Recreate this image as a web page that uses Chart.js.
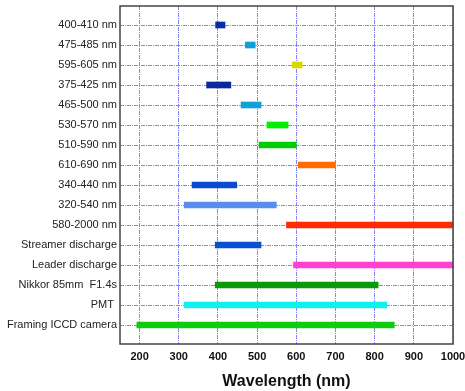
<!DOCTYPE html>
<html>
<head>
<meta charset="utf-8">
<script src="https://cdn.jsdelivr.net/npm/chart.js@4"></script>
<style>
  html, body { margin: 0; padding: 0; background: #fff; }
  #wrap { width: 465px; height: 391px; }
</style>
</head>
<body>
<div id="wrap"><canvas id="chart"></canvas></div>
<script>
const categories = ['400-410 nm', '475-485 nm', '595-605 nm', '375-425 nm', '465-500 nm',
  '530-570 nm', '510-590 nm', '610-690 nm', '340-440 nm', '320-540 nm', '580-2000 nm',
  'Streamer discharge', 'Leader discharge', 'Nikkor 85mm  F1.4s', 'PMT ', 'Framing ICCD camera'];
// bar extents (nm)
const rangeStart = [394, 470, 590, 371, 459, 525, 505, 605, 334, 314, 575, 393, 593, 393, 314, 193];
const rangeEnd   = [418, 495, 615, 433, 510, 579, 600, 700, 448, 549, 2000, 510, 2000, 809, 831, 850];
const barColors = ['#0a2ea8', '#10a0d8', '#d8d800', '#0a2a9c', '#10a0d8', '#00f000', '#00cc00', '#ff6c00',
  '#0a4ad0', '#5a8cf0', '#ff2a00', '#0a50d0', '#ff40d0', '#0a9a0a', '#10f0f0', '#10cc10'];
const xTicks = [200, 300, 400, 500, 600, 700, 800, 900, 1000];

const gridColor = '#8484f4';
const gridDash = [4, 1, 1, 1];

const frame = {
  id: 'frame',
  afterDraw(chart) {
    const { ctx, chartArea: a } = chart;
    ctx.save();
    ctx.strokeStyle = '#444';
    ctx.lineWidth = 1.5;
    ctx.strokeRect(a.left, a.top, a.right - a.left, a.bottom - a.top);
    ctx.restore();
  }
};

new Chart(document.getElementById('chart'), {
  type: 'bar',
  data: {
    datasets: [{
      data: categories.map((c, i) => ({ x: [rangeStart[i], rangeEnd[i]], y: i })),
      backgroundColor: barColors,
      borderWidth: 0,
      borderSkipped: false,
      barThickness: 6
    }]
  },
  options: {
    indexAxis: 'y',
    responsive: true,
    maintainAspectRatio: false,
    animation: false,
    layout: { padding: { top: 6, right: 12, left: 0, bottom: 0 } },
    plugins: { legend: { display: false }, tooltip: { enabled: false } },
    scales: {
      x: {
        type: 'linear',
        min: 150,
        max: 1000,
        afterBuildTicks: s => { s.ticks = xTicks.map(v => ({ value: v })); },
        afterFit: s => { s.height = 47; s.paddingLeft = 0; s.paddingRight = 0; },
        ticks: {
          color: '#111',
          padding: 6,
          callback: v => String(v),
          font: { family: 'Liberation Sans', size: 11, weight: 'bold' }
        },
        grid: { color: gridColor, lineWidth: 1, drawTicks: false },
        border: { display: false, dash: gridDash },
        title: {
          display: true,
          text: 'Wavelength (nm)',
          color: '#111',
          padding: { top: 4, bottom: 0 },
          font: { family: 'Liberation Sans', size: 16, weight: 'bold' }
        }
      },
      y: {
        type: 'linear',
        reverse: true,
        offset: false,
        min: -0.95,
        max: 15.95,
        afterBuildTicks: s => { s.ticks = categories.map((c, i) => ({ value: i })); },
        afterFit: s => { s.width = 120; s.paddingTop = 0; s.paddingBottom = 0; },
        ticks: {
          color: '#222',
          padding: 3,
          callback: v => categories[v],
          font: { family: 'Liberation Sans', size: 11 }
        },
        grid: { color: gridColor, lineWidth: 1, drawTicks: false, offset: false },
        border: { display: false, dash: gridDash }
      }
    }
  },
  plugins: [frame]
});
</script>
</body>
</html>
